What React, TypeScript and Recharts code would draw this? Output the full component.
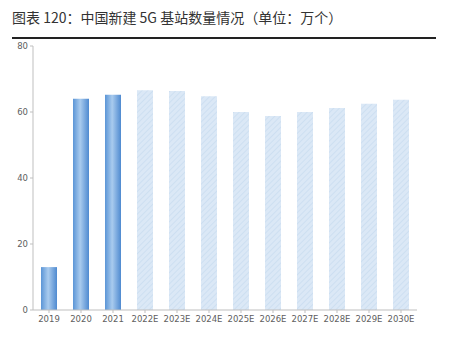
import { BarChart, Bar, XAxis, YAxis, Cell } from 'recharts'

const years = ['2019', '2020', '2021', '2022E', '2023E', '2024E', '2025E', '2026E', '2027E', '2028E', '2029E', '2030E']
const stations = [13, 64, 65.2, 66.6, 66.4, 64.8, 60, 58.8, 60, 61.2, 62.5, 63.7]
const yTicks = [0, 20, 40, 60, 80]

const data = years.map((y, i) => ({ year: y, value: stations[i] }))

const tickStyle = { fill: '#606060', fontSize: 8.5, fontFamily: 'DejaVu Sans' }

export default function App() {
  return (
    <div style={{ position: 'relative', width: 458, height: 340, margin: -8, background: '#fff', fontFamily: '"Noto Sans CJK SC", sans-serif' }}>
      <div style={{ position: 'absolute', left: 12, top: 7, fontSize: 14, color: '#333', whiteSpace: 'nowrap' }}>
        图表 120：中国新建 5G 基站数量情况（单位：万个）
      </div>
      <div style={{ position: 'absolute', left: 12, top: 37, width: 424, height: 1.5, background: '#222' }} />
      <div style={{ position: 'absolute', left: 0, top: 0 }}>
        <BarChart width={458} height={340} data={data} margin={{ top: 46, right: 41, bottom: 0, left: 8 }} barCategoryGap={0}>
          <defs>
            <linearGradient id="actual" x1="0" y1="0" x2="1" y2="0">
              <stop offset="0%" stopColor="#5b95d6" />
              <stop offset="45%" stopColor="#a9cbee" />
              <stop offset="100%" stopColor="#4f8ad0" />
            </linearGradient>
            <pattern id="hatch" width="4" height="4" patternUnits="userSpaceOnUse" patternTransform="rotate(45)">
              <rect width="4" height="4" fill="#dbe8f6" />
              <line x1="0" y1="0" x2="0" y2="4" stroke="#c9dcf0" strokeWidth="1.5" />
            </pattern>
          </defs>
          <XAxis
            dataKey="year" tick={tickStyle} tickLine={{ stroke: '#bfbfbf' }} axisLine={{ stroke: '#bfbfbf' }}
            interval={0} tickSize={3} tickMargin={3} height={30}
          />
          <YAxis
            domain={[0, 80]} ticks={yTicks} tick={tickStyle} width={25}
            tickLine={{ stroke: '#bfbfbf' }} axisLine={{ stroke: '#bfbfbf' }} tickSize={3}
          />
          <Bar dataKey="value" barSize={16} isAnimationActive={false}>
            {data.map(d => (
              <Cell key={d.year} fill={d.year.endsWith('E') ? 'url(#hatch)' : 'url(#actual)'} />
            ))}
          </Bar>
        </BarChart>
      </div>
    </div>
  )
}
